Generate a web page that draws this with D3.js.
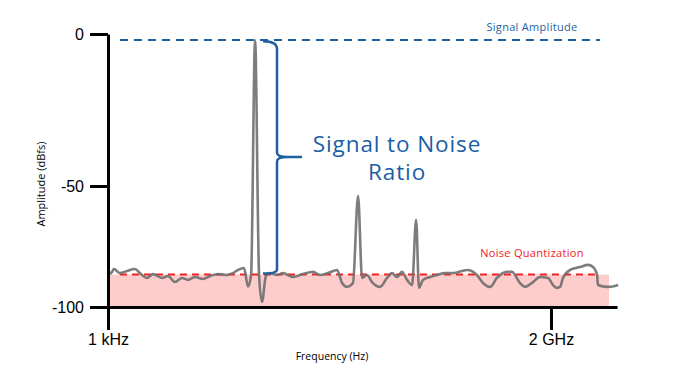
<!DOCTYPE html>
<meta charset="utf-8">
<script src="https://d3js.org/d3.v7.min.js"></script>
<style>
  body { margin: 0; background: #fff; }
  text { font-family: "Liberation Sans", Arial, sans-serif; }
</style>
<div id="my_dataviz"></div>
<script>

// frequency in MHz (0.001 = 1 kHz), amplitude in dBFS
var freq = [9, 18, 27, 54, 86, 122, 144, 176, 203, 244, 271, 302, 334, 361, 393, 429, 461, 497, 537, 564, 587, 614, 632, 646, 664, 682, 695, 713, 731, 763, 790, 835, 880, 926, 957, 993, 1034, 1057, 1079, 1106, 1129, 1147, 1169, 1192, 1228, 1260, 1282, 1305, 1327, 1350, 1373, 1391, 1404, 1422, 1454, 1485, 1522, 1558, 1621, 1666, 1693, 1725, 1756, 1801, 1824, 1860, 1883, 1919, 1950, 1987, 2009, 2027, 2041, 2054, 2086, 2131, 2167, 2190, 2208, 2212, 2253, 2289, 2303];
var amplitude = [-86.4, -85.5, -84.3, -86.0, -85.1, -84.3, -86.0, -88.0, -86.4, -88.0, -87.2, -89.7, -88.0, -88.8, -87.6, -88.4, -87.2, -86.4, -86.8, -86.0, -84.7, -83.9, -91.5, -86.8, -2, -87.0, -97.9, -87.2, -86.0, -86.8, -86.0, -87.6, -86.4, -85.5, -86.8, -86.0, -84.7, -90.1, -91.7, -90.1, -54, -88.0, -86.8, -89.7, -91.7, -88.0, -86.0, -87.6, -85.5, -88.8, -90.9, -64, -92.1, -88.8, -87.6, -86.8, -86.0, -86.0, -84.7, -86.8, -90.1, -91.7, -88.0, -85.5, -85.5, -90.1, -91.7, -89.7, -87.6, -88.0, -90.9, -92.1, -91.7, -88.0, -84.7, -83.5, -82.6, -83.5, -86.8, -90.9, -91.7, -91.3, -90.9];

var yTicks = [-100, -50, 0];
var xTicks = [0.001, 2000];
var xTickLabels = ["1 kHz", "2 GHz"];

var signalLevel = -2;      // signal amplitude line
var noiseLevel = -86.6;    // quantization noise floor

var width = 674, height = 376;

var svg = d3.select("#my_dataviz")
  .append("svg")
    .attr("width", width)
    .attr("height", height);

var x = d3.scaleLinear().domain([0, 2298]).range([108, 617]);
var y = d3.scaleLinear().domain([-100, -50, 0]).range([307, 186, 34]);

// noise floor area
svg.append("rect")
  .attr("x", x(0))
  .attr("y", y(noiseLevel))
  .attr("width", x(2262) - x(0))
  .attr("height", y(-100) - y(noiseLevel))
  .attr("fill", "#ffcccc");

// noise quantization dashed line
svg.append("line")
  .attr("x1", x(54)).attr("x2", x(2221))
  .attr("y1", y(noiseLevel)).attr("y2", y(noiseLevel))
  .attr("stroke", "#ee2222")
  .attr("stroke-width", 2)
  .attr("stroke-dasharray", "7,5");

// signal amplitude dashed line
svg.append("line")
  .attr("x1", x(54)).attr("x2", x(2221))
  .attr("y1", y(signalLevel)).attr("y2", y(signalLevel))
  .attr("stroke", "#1f5f9f")
  .attr("stroke-width", 2)
  .attr("stroke-dasharray", "8,6");

// spectrum line
var pts = freq.map(function(f, i) { return [f, amplitude[i]]; });
svg.append("path")
  .datum(pts)
  .attr("d", d3.line()
    .x(function(d) { return x(d[0]); })
    .y(function(d) { return y(d[1]); })
    .curve(d3.curveMonotoneX))
  .attr("fill", "none")
  .attr("stroke", "#6f6f6f")
  .attr("stroke-opacity", 0.9)
  .attr("stroke-width", 2.6);

// bracket
var bx = x(763);
var bracket = d3.path();
bracket.moveTo(x(700), y(-2.4));
bracket.quadraticCurveTo(bx, y(-2.4), bx, y(-5));
bracket.lineTo(bx, y(-39));
bracket.quadraticCurveTo(bx, y(-40.5), x(810), y(-40.5));
bracket.lineTo(x(876), y(-40.5));
bracket.moveTo(x(810), y(-40.5));
bracket.quadraticCurveTo(bx, y(-40.5), bx, y(-42));
bracket.lineTo(bx, y(-84.5));
bracket.quadraticCurveTo(bx, y(-86.2), x(700), y(-86.2));
svg.append("path")
  .attr("d", bracket.toString())
  .attr("fill", "none")
  .attr("stroke", "#1f5f9f")
  .attr("stroke-width", 2.5);

svg.append("text")
  .attr("x", 397).attr("y", 152)
  .attr("text-anchor", "middle")
  .attr("fill", "#1a5ea6")
  .style("font-family", "'Open Sans', sans-serif")
  .style("font-size", "22.5px")
  .style("letter-spacing", "0.9px")
  .selectAll("tspan")
  .data(["Signal to Noise", "Ratio"])
  .enter().append("tspan")
    .attr("x", 397)
    .attr("dy", function(d, i) { return i ? 28 : 0; })
    .text(function(d) { return d; });

svg.append("text")
  .attr("x", 532).attr("y", 31)
  .attr("text-anchor", "middle")
  .attr("fill", "#1f5f9f")
  .style("font-family", "'Open Sans', sans-serif")
  .style("font-size", "11px")
  .style("letter-spacing", "0.3px")
  .text("Signal Amplitude");

svg.append("text")
  .attr("x", 532).attr("y", 257)
  .attr("text-anchor", "middle")
  .attr("fill", "#ee2222")
  .style("font-family", "'Open Sans', sans-serif")
  .style("font-size", "11px")
  .style("letter-spacing", "0.3px")
  .text("Noise Quantization");

// axes
var yAxis = svg.append("g")
  .attr("transform", "translate(" + x(0) + ",0)")
  .call(d3.axisLeft(y).tickValues(yTicks).tickSize(18).tickSizeOuter(0).tickPadding(6)
    .tickFormat(function(d) { return String(d); }));

var xAxis = svg.append("g")
  .attr("transform", "translate(0," + y(-100) + ")")
  .call(d3.axisBottom(x).tickValues(xTicks).tickSize(23).tickSizeOuter(0).tickPadding(4)
    .tickFormat(function(d, i) { return xTickLabels[i]; }));

[yAxis, xAxis].forEach(function(a) {
  a.selectAll("path, line").attr("stroke", "#000").attr("stroke-width", 3);
  a.selectAll("text").attr("fill", "#000").style("font-size", "16px")
    .style("font-family", "Liberation Sans, Arial, sans-serif");
});

svg.append("text")
  .attr("transform", "translate(45,184) rotate(-90)")
  .attr("text-anchor", "middle")
  .style("font-family", "'Open Sans', sans-serif")
  .style("font-size", "11px")
  .text("Amplitude (dBfs)");

svg.append("text")
  .attr("x", 332).attr("y", 360)
  .attr("text-anchor", "middle")
  .style("font-family", "'Open Sans', sans-serif")
  .style("font-size", "10.5px")
  .text("Frequency (Hz)");

</script>
